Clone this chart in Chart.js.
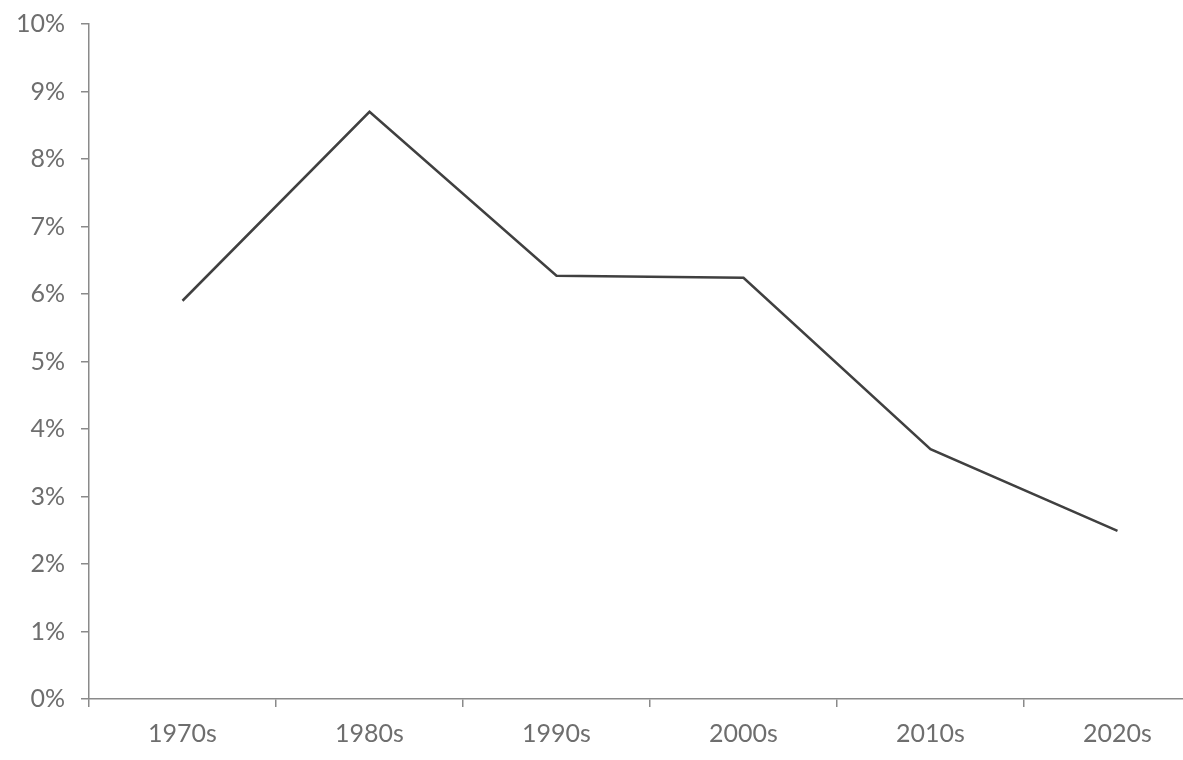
<!DOCTYPE html>
<html>
<head>
<meta charset="utf-8">
<script src="https://cdn.jsdelivr.net/npm/chart.js@4/dist/chart.umd.min.js"></script>
<style>
  html, body { margin: 0; padding: 0; background: #fff; overflow: hidden; }
  #wrap { width: 1211px; height: 760px; }
</style>
</head>
<body>
<div id="wrap"><canvas id="myChart"></canvas></div>
<script>
// Data
var decades = ["1970s", "1980s", "1990s", "2000s", "2010s", "2020s"];
var rates = [5.9, 8.7, 6.27, 6.24, 3.7, 2.49];
var yMin = 0;
var yMax = 10;
var yStep = 1;

var axisColor = "#8a8a8a";
var labelColor = "#6e6e6e";

var ctx = document.getElementById("myChart").getContext("2d");
var myChart = new Chart(ctx, {
  type: "line",
  data: {
    labels: decades,
    datasets: [{
      data: rates,
      borderColor: "#404040",
      borderWidth: 2.5,
      pointRadius: 0,
      tension: 0,
      fill: false
    }]
  },
  options: {
    responsive: true,
    maintainAspectRatio: false,
    animation: false,
    layout: { padding: { top: 24, right: 0, left: 0, bottom: 0 } },
    plugins: {
      legend: { display: false },
      tooltip: { enabled: false }
    },
    scales: {
      x: {
        offset: true,
        grid: {
          offset: true,
          drawOnChartArea: false,
          drawTicks: true,
          tickLength: 8,
          color: axisColor,
          lineWidth: 1.5
        },
        border: { display: true, color: axisColor, width: 1.5 },
        ticks: {
          color: labelColor,
          padding: 12,
          font: { family: "Lato", size: 25 }
        },
        afterFit: function (scale) {
          scale.height = 61;
          scale.paddingLeft = 0;
          scale.paddingRight = 0;
        }
      },
      y: {
        min: yMin,
        max: yMax,
        grid: {
          drawOnChartArea: false,
          drawTicks: true,
          tickLength: 8,
          color: axisColor,
          lineWidth: 1.5
        },
        border: { display: true, color: axisColor, width: 1.5 },
        ticks: {
          stepSize: yStep,
          color: labelColor,
          padding: 16,
          font: { family: "Lato", size: 25 },
          callback: function (v) { return v + "%"; }
        },
        afterFit: function (scale) {
          scale.width = 89;
          scale.paddingTop = 0;
          scale.paddingBottom = 0;
        }
      }
    }
  }
});
</script>
</body>
</html>
